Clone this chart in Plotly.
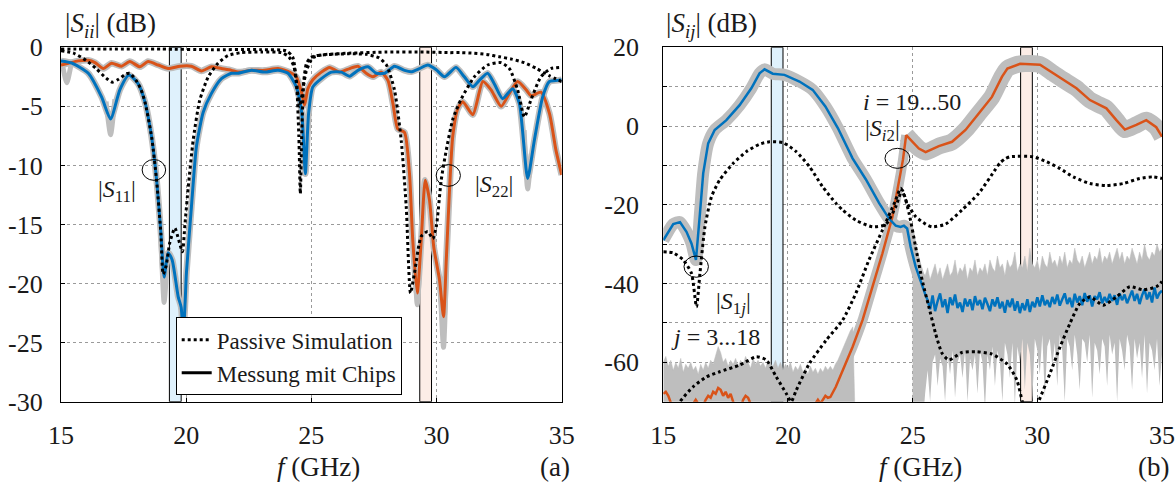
import numpy as np
import plotly.graph_objects as go

BLUE = '#0072BD'
ORANGE = '#D95319'
GRAY = '#BEBEBE'
FONT = 'Liberation Serif'
TXT = '#1a1a1a'

# ---------------- panel (a): |S_ii| ----------------
s11_f = [15.0, 15.43, 16.09, 16.62, 16.98, 17.35, 17.71, 18.08, 18.35, 18.62, 18.82, 18.99, 19.12, 19.28,
         19.44, 19.68, 19.8, 19.88, 19.96, 20.01, 20.21, 20.41, 20.68, 21.01, 21.41, 21.81, 22.07, 22.61, 23.14,
         23.67, 24.07, 24.40, 24.62, 24.76, 24.89, 25.06, 25.40, 25.80, 26.20, 26.53, 26.86, 27.26, 27.59,
         27.92, 28.32, 28.72, 28.99, 29.32, 29.65, 29.99, 30.32, 30.78, 31.11, 31.45, 31.71, 32.04, 32.31,
         32.64, 33.04, 33.31, 33.64, 33.91, 34.24, 34.51, 34.84, 35.0]
s11_db = [-1.15, -1.33, -2.2, -4.2, -6.07, -3.6, -2.35, -3.07, -4.6, -7.6, -11.25, -15.7, -19.45, -17.4,
          -18.0, -21.1, -22.0, -24.5, -21.5, -19.1, -13.5, -8.4, -5.5, -3.9, -2.65, -2.2, -2.2, -1.95, -2.1,
          -1.95, -2.2, -3.35, -5.6, -10.7, -5.6, -3.35, -2.65, -2.1, -2.1, -2.45, -1.95, -1.65, -2.2,
          -2.2, -1.6, -1.95, -2.07, -1.8, -1.5, -1.9, -2.5, -1.7, -2.5, -3.35, -2.8, -2.2, -3.1,
          -4.35, -3.5, -4.77, -11.1, -7.85, -4.2, -2.9, -2.8, -2.75]

s22_f = [15.0, 15.29, 15.69, 16.09, 16.36, 16.69, 17.02, 17.42, 17.75, 18.15, 18.48, 18.88, 19.28, 19.75,
         20.21, 20.61, 21.01, 21.41, 21.81, 22.07, 22.61, 23.14, 23.67, 24.13, 24.40, 24.62, 24.73, 24.86,
         25.06, 25.40, 25.73, 26.13, 26.53, 26.86, 27.19, 27.46, 27.79, 28.06, 28.26, 28.45, 28.72, 28.92,
         29.05, 29.23, 29.39, 29.55, 29.72, 29.89, 30.12, 30.28, 30.39, 30.52, 30.65, 30.85, 31.05, 31.45,
         31.85, 32.18, 32.58, 32.91, 33.24, 33.58, 33.78, 34.17, 34.51, 34.77, 35.0]
s22_db = [-1.5, -1.35, -1.15, -1.1, -1.3, -1.8, -1.35, -1.6, -1.2, -1.65, -1.2, -1.5, -1.8, -1.6,
          -1.6, -2.0, -1.65, -1.8, -1.95, -2.1, -1.95, -1.95, -1.8, -2.1, -2.5, -3.9, -4.9, -3.5,
          -2.75, -2.1, -1.7, -2.1, -1.8, -1.6, -2.2, -2.5, -2.1, -2.8, -4.77, -6.9, -7.2, -10.7,
          -16.3, -20.8, -16.3, -11.25, -12.95, -16.9, -19.7, -22.8, -18.0, -12.0, -7.5, -5.2, -4.6, -5.7,
          -2.9, -3.6, -5.0, -3.9, -2.9, -3.6, -4.1, -3.8, -5.6, -8.7, -10.8]

# gray spread of the measured chips (deeper excursions at the dips)
gray_a_f = [15.05, 15.23, 15.4, None, 16.8, 16.98, 17.15, None, 18.98, 19.12, 19.26, None,
            33.5, 33.64, 33.78, None, 29.12, 29.23, 29.34, None, 30.15, 30.28, 30.4]
gray_a_db = [-1.4, -3.0, -1.5, None, -4.6, -7.4, -4.4, None, -15.5, -21.6, -17.4, None,
             -7.0, -12.0, -9.0, None, -18.0, -21.8, -18.0, None, -20.5, -25.4, -18.5]

sim11_f = [15.0, 15.5, 16.0, 16.4, 16.8, 17.05, 17.3, 17.6, 17.75, 18.0, 18.2, 18.35, 18.62, 18.82, 18.99,
           19.08, 19.2, 19.35, 19.55, 19.7, 19.85, 19.95, 20.08, 20.28, 20.54, 20.88, 21.27, 21.67, 22.2,
           23.0, 23.8, 24.1, 24.3, 24.42, 24.53, 24.66, 24.8, 25.05, 25.4, 26.5, 28.0, 29.5, 30.5, 31.0,
           31.5, 32.0, 32.5, 33.0, 33.5, 34.0, 34.5, 35.0]
sim11_db = [-0.3, -0.5, -1.1, -1.8, -2.6, -2.95, -2.7, -2.25, -2.2, -2.8, -3.6, -4.6, -7.6, -11.3, -15.8,
            -19.2, -18.5, -16.5, -15.3, -16.3, -17.3, -15.0, -11.9, -7.85, -4.5, -2.5, -1.35, -0.7, -0.45,
            -0.4, -0.45, -0.8, -1.6, -3.3, -5.0, -3.6, -2.0, -0.9, -0.65, -0.5, -0.4, -0.4, -0.45, -0.45,
            -0.5, -0.6, -0.8, -1.0, -1.3, -1.8, -2.4, -2.9]

sim22_f = [15.0, 17.0, 19.0, 21.0, 23.0, 24.0, 24.25, 24.4, 24.5, 24.56, 24.62, 24.7, 24.8, 24.95, 25.2,
           25.8, 26.5, 27.2, 27.7, 28.0, 28.32, 28.59, 28.79, 28.96, 29.12, 29.39, 29.65, 29.85, 29.99,
           30.19, 30.39, 30.65, 30.98, 31.51, 32.04, 32.58, 32.91, 33.24, 33.51, 33.78, 34.17, 34.57, 35.0]
sim22_db = [-0.15, -0.15, -0.15, -0.2, -0.2, -0.3, -0.8, -2.8, -7.5, -12.4, -7.0, -2.8, -1.4, -0.9, -0.7,
            -0.6, -0.55, -0.6, -0.9, -1.5, -3.6, -7.9, -13.5, -20.8, -19.1, -16.0, -15.6, -16.2, -15.2,
            -11.2, -8.7, -6.1, -4.4, -2.5, -1.5, -1.3, -1.8, -3.6, -5.9, -4.4, -2.5, -1.8, -1.7]

# ---------------- panel (b): |S_ij| ----------------
s1j_f = [15.0, 15.40, 15.67, 15.93, 16.13, 16.31, 16.47, 16.60, 16.80, 17.06, 17.53, 18.06, 18.53, 18.86,
         19.06, 19.39, 19.86, 20.46, 20.99, 21.5, 22.0, 22.59, 23.12, 23.65, 24.05, 24.32, 24.52, 24.65,
         24.78, 24.92, 25.12, 25.38, 25.52, 25.6]
s1j_db = [-29.0, -24.9, -24.4, -26.85, -29.8, -34.0, -22.2, -12.0, -4.4, -1.0, 1.5, 5.3, 9.6, 13.4,
          14.4, 13.3, 13.0, 11.3, 9.2, 5.0, -0.5, -8.2, -13.5, -19.5, -23.5, -25.3, -25.6, -25.3,
          -26.0, -30.7, -35.7, -40.8, -43.0, -44.2]
# measured |S1j| above 25.7 GHz (noise floor), 0.1 GHz steps
s1j_noise_db = [-46.5, -43.0, -47.0, -44.5, -42.5, -46.0, -44.0, -47.5, -43.5, -45.5, -42.8, -46.2, -44.8,
                -47.2, -43.8, -45.8, -44.0, -46.8, -43.2, -45.5, -44.2, -46.5, -43.6, -45.2, -47.0, -44.0,
                -45.8, -43.5, -46.3, -44.6, -47.4, -44.2, -46.0, -43.8, -46.9, -44.5, -47.5, -45.0, -46.8,
                -44.0, -47.2, -44.6, -46.0, -43.5, -45.8, -43.0, -45.5, -44.2, -46.0, -43.4, -45.2, -42.8,
                -45.6, -44.0, -42.5, -45.2, -43.6, -46.0, -42.6, -44.8, -43.2, -45.5, -42.4, -44.6, -43.0,
                -45.8, -43.2, -44.0, -42.2, -45.0, -43.4, -44.8, -42.6, -44.4, -43.0, -45.4, -42.5, -44.2,
                -42.8, -45.0, -43.2, -41.8, -44.4, -42.6, -45.2, -43.0, -41.5, -44.0, -42.2, -44.8, -41.0,
                -43.8, -42.4, -41.8]

# measured |Si2| below 21.7 GHz (noise floor), 0.1 GHz steps from 15.0
si2_low_db = [-68.0, -67.5, -68.5, -70.5, -72, -72, -72, -71, -72, -72, -71.5, -72, -70.5, -69.5, -70.5,
              -72, -71, -69.5, -68.5, -69, -67.5, -68, -66.5, -67, -68.5, -67.5, -69, -68, -70, -72,
              -71, -72, -69.5, -68.5, -69, -70.5, -72, -72, -71, -72, -70.5, -72, -72, -71.5, -72, -72,
              -72, -71, -72, -72, -72, -70.5, -72, -72, -71, -72, -72, -70.5, -72, -71.5, -72, -70.5,
              -69.5, -70.5, -69.5, -68.5, -69]
si2_f = [21.7, 21.92, 22.19, 22.59, 22.99, 23.39, 23.79, 24.19, 24.45, 24.61, 24.74, 24.98, 25.25, 25.52,
         26.05, 26.58, 27.12, 27.65, 28.18, 28.58, 28.8, 29.31, 30.11, 30.64, 31.04, 31.57, 32.11, 32.51,
         32.77, 33.17, 33.51, 33.97, 34.37, 34.77, 35.0]
si2_db = [-68.8, -66.2, -62.0, -56.1, -49.3, -40.8, -32.3, -23.0, -14.5, -8.6, -2.3, -4.0, -5.7, -6.6,
          -5.1, -4.0, -1.0, 3.2, 7.4, 12.5, 14.6, 15.8, 15.6, 13.4, 11.7, 9.6, 6.6, 5.3,
          4.5, 1.5, -0.9, 0.3, 1.5, -0.3, -2.7]

sim1j_f = [15.0, 15.40, 15.80, 16.13, 16.33, 16.47, 16.67, 16.93, 17.26, 17.80, 18.33, 18.86, 19.26,
           19.79, 20.33, 20.86, 21.39, 21.92, 22.19, 22.72, 23.39, 23.92, 24.32, 24.58, 24.85, 25.12,
           25.38, 25.65, 25.92, 26.18, 26.45, 26.98, 27.52, 28.18, 28.8, 29.18, 29.4, 29.7, 30.05, 30.51,
           30.91, 31.31, 31.71, 32.11, 32.64, 33.17, 33.71, 34.24, 34.77, 35.0]
sim1j_db = [-31.9, -32.2, -34.0, -37.4, -45.9, -37.4, -25.6, -18.0, -13.7, -9.5, -6.5, -4.6, -4.0,
            -4.2, -6.5, -10.3, -15.4, -19.6, -21.3, -23.9, -25.6, -25.0, -20.5, -16.3, -22.0, -30.7,
            -39.1, -45.9, -52.7, -57.7, -59.4, -57.5, -57.3, -57.9, -60.5, -64.5, -70.0, -76.0, -70.0, -62.8,
            -56.1, -50.1, -45.0, -43.4, -45.5, -43.4, -40.8, -41.6, -40.8, -39.5]

simi2_f = [15.4, 15.67, 16.20, 16.73, 17.26, 18.06, 18.73, 19.13, 19.53, 19.93, 20.13, 20.33, 20.86, 21.53,
           22.19, 22.72, 23.25, 23.79, 24.32, 24.52, 24.78, 25.12, 25.52, 25.78, 26.32, 26.98, 27.65, 28.32,
           28.51, 28.71, 28.91, 29.84, 30.38, 30.91, 31.44, 32.11, 32.77, 33.44, 34.11, 34.64, 35.0]
simi2_db = [-74.0, -70.0, -66.2, -63.7, -62.4, -60.7, -58.6, -59.4, -63.7, -67.9, -70.0, -67.1, -60.3, -54.4,
            -49.3, -42.5, -34.0, -26.4, -18.8, -15.8, -19.6, -23.0, -24.9, -25.6, -24.9, -21.3, -17.1, -11.0,
            -9.3, -8.3, -7.8, -7.8, -9.1, -10.8, -12.9, -14.6, -15.1, -14.6, -13.3, -12.9, -13.3]

# gray spread of all measured paths in the noise floor
gray_low_top = [-60, -58.5, -61, -59.5, -62, -60, -61.5, -59, -62.5, -60.5, -61.5, -60, -62, -61, -63,
                -60.5, -62, -60, -61.5, -59.5, -60.5, -58, -56, -57.5, -60, -59, -61, -59.5, -60.5, -59,
                -61, -59.5, -60.5, -58.5, -60, -61.5, -59, -60.5, -59.5, -61, -60, -61.5, -59.5, -60.5,
                -61, -59.5, -61.5, -60, -62, -60.5, -61.5, -60, -62.5, -61, -62, -60.5, -62.5, -61.5,
                -63, -61, -62.5, -61.5, -63, -61.5, -62.5, -61, -62, -61, -62, -60.5, -59.5, -58, -56.5,
                -55, -53.5, -52, -51, -76]
gray_low_bottom = [-76] * len(gray_low_top)

gray_hi_top = [-27, -31, -34, -36, -37, -38, -36, -39, -37, -35, -38, -36, -39, -37, -35, -38, -37, -34,
               -38, -36, -37, -35, -39, -36, -37, -34, -38, -36, -37, -35, -38, -34, -36, -37, -33, -36,
               -35, -38, -34, -36, -35, -32, -37, -35, -36, -33, -37, -31, -35, -36, -34, -37, -33, -35,
               -36, -32, -35, -34, -36, -33, -35, -32, -36, -34, -35, -31, -34, -35, -33, -36, -34, -32,
               -35, -33, -34, -31, -35, -33, -34, -32, -35, -33, -31, -34, -32, -35, -33, -34, -31, -33,
               -35, -32, -34, -30, -33, -34, -32, -33, -30, -32, -31]
gray_hi_bottom = [-76, -76, -76, -76, -76, -68, -62, -70, -60, -58, -66, -59, -61, -70, -58, -63, -57, -69,
                  -60, -58, -64, -57, -70, -59, -62, -58, -68, -57, -60, -72, -58, -62, -56, -66, -57, -60,
                  -70, -55, -58, -64, -55, -71, -56, -60, -54, -67, -55, -58, -70, -54, -57, -63, -53, -69,
                  -56, -54, -61, -55, -66, -53, -57, -70, -54, -56, -62, -53, -58, -67, -54, -55, -60, -53,
                  -69, -55, -57, -63, -54, -56, -66, -53, -58, -55, -70, -54, -57, -62, -53, -56, -67, -54,
                  -59, -55, -64, -53, -68, -55, -57, -62, -54, -66, -58]

bands = [(19.33, 19.8), (29.33, 29.8)]
band_fill = ['#DFF1FC', '#FCEDE7']

fig = go.Figure()


def add_line(x, y, color, width, dash='solid', xa='x', ya='y', smooth=False, **kw):
    ln = dict(color=color, width=width, dash=dash)
    if smooth:
        ln.update(shape='spline', smoothing=0.6)
    fig.add_trace(go.Scatter(x=x, y=y, mode='lines', xaxis=xa, yaxis=ya, showlegend=False,
                             hoverinfo='skip', line=ln, **kw))


# legend entries first
fig.add_trace(go.Scatter(x=[None], y=[None], mode='lines', name='Passive Simulation',
                         line=dict(color='black', width=3, dash='dot')))
fig.add_trace(go.Scatter(x=[None], y=[None], mode='lines', name='Messung mit Chips',
                         line=dict(color='black', width=3)))

# ---- panel (a) traces
add_line(s11_f, s11_db, GRAY, 6.5, smooth=True)
add_line(s22_f, s22_db, GRAY, 6.5, smooth=True)
add_line(gray_a_f, gray_a_db, GRAY, 5, smooth=True)
add_line(s22_f, s22_db, ORANGE, 3, smooth=True)
add_line(s11_f, s11_db, BLUE, 3, smooth=True)
add_line(sim11_f, sim11_db, 'black', 3, 'dot', smooth=True)
add_line(sim22_f, sim22_db, 'black', 3, 'dot', smooth=True)

# ---- panel (b) traces
x_low = np.round(np.linspace(15.0, 22.7, len(gray_low_top)), 3)
add_line(x_low, gray_low_bottom, GRAY, 0, xa='x2', ya='y2')
add_line(x_low, gray_low_top, GRAY, 0.5, xa='x2', ya='y2', fill='tonexty', fillcolor=GRAY)
x_hi = np.round(np.linspace(25.0, 35.0, len(gray_hi_top)), 3)
x_hib = np.round(np.linspace(25.0, 35.0, len(gray_hi_bottom)), 3)
add_line(x_hib, gray_hi_bottom, GRAY, 0, xa='x2', ya='y2')
add_line(x_hi, gray_hi_top, GRAY, 0.5, xa='x2', ya='y2', fill='tonexty', fillcolor=GRAY)

x_noise = np.round(np.linspace(25.7, 35.0, len(s1j_noise_db)), 3)
s1j_all_f = list(s1j_f) + list(x_noise)
s1j_all_db = list(s1j_db) + list(s1j_noise_db)
x_si2low = np.round(np.linspace(15.0, 21.6, len(si2_low_db)), 3)
si2_all_f = list(x_si2low) + list(si2_f)
si2_all_db = list(si2_low_db) + list(si2_db)

add_line(s1j_f, s1j_db, GRAY, 12, xa='x2', ya='y2', smooth=True)
add_line(si2_f[:11], si2_db[:11], GRAY, 10, xa='x2', ya='y2', smooth=True)
add_line(si2_f[10:], si2_db[10:], GRAY, 17, xa='x2', ya='y2', smooth=True)
add_line(si2_all_f, si2_all_db, ORANGE, 2.5, xa='x2', ya='y2')
add_line(s1j_all_f, s1j_all_db, BLUE, 2.5, xa='x2', ya='y2')
add_line(sim1j_f, sim1j_db, 'black', 3, 'dot', xa='x2', ya='y2', smooth=True)
add_line(simi2_f, simi2_db, 'black', 3, 'dot', xa='x2', ya='y2', smooth=True)

# bands
for xr, yr, yb in (('x', 'y', (-30, 0)), ('x2', 'y2', (-70, 20))):
    for (b0, b1), fc in zip(bands, band_fill):
        fig.add_shape(type='rect', xref=xr, yref=yr, x0=b0, x1=b1, y0=yb[0], y1=yb[1],
                      fillcolor=fc, line=dict(color='black', width=1), layer='between')

# annotation ellipses
ellipses = [('x', 'y', 18.71, -10.38, 0.47, 0.88), ('x', 'y', 30.47, -10.85, 0.485, 0.92),
            ('x2', 'y2', 24.39, -8.2, 0.5, 2.54), ('x2', 'y2', 16.32, -35.7, 0.49, 2.7)]
for xr, yr, cx, cy, rx, ry in ellipses:
    fig.add_shape(type='circle', xref=xr, yref=yr, x0=cx - rx, x1=cx + rx, y0=cy - ry, y1=cy + ry,
                  line=dict(color='black', width=1), layer='above')

labels = [('x', 'y', 17.22, -12.2, '|<i>S</i><sub>11</sub>|'),
          ('x', 'y', 32.28, -11.7, '|<i>S</i><sub>22</sub>|'),
          ('x2', 'y2', 24.97, 6.2, '<i>i</i> = 19...50'),
          ('x2', 'y2', 23.79, -1.0, '|<i>S</i><sub><i>i</i>2</sub>|'),
          ('x2', 'y2', 17.82, -45.0, '|<i>S</i><sub>1<i>j</i></sub>|'),
          ('x2', 'y2', 17.1, -53.5, '<i>j</i> = 3...18')]
for xr, yr, x, y, t in labels:
    fig.add_annotation(xref=xr, yref=yr, x=x, y=y, text=t, showarrow=False,
                       font=dict(family=FONT, size=24, color=TXT))

W, H = 1175, 485


def px_x(v):
    return v / W


def px_y(v):
    return 1 - v / H


paper_txt = [(63, 25, 'left', '|<i>S</i><sub><i>ii</i></sub>| (dB)'),
             (664, 25, 'left', '|<i>S</i><sub><i>ij</i></sub>| (dB)'),
             (318, 467, 'center', '<i>f</i> (GHz)'),
             (920, 467, 'center', '<i>f</i> (GHz)'),
             (555, 467, 'center', '(a)'),
             (1153, 467, 'center', '(b)')]
for px, py, anc, t in paper_txt:
    fig.add_annotation(xref='paper', yref='paper', x=px_x(px), y=px_y(py), text=t, showarrow=False,
                       xanchor=anc, yanchor='middle', font=dict(family=FONT, size=27, color=TXT))

axis_common = dict(showline=True, mirror=True, linecolor='black', linewidth=1.2, showgrid=True,
                   gridcolor='#9A9A9A', griddash='dot', gridwidth=1, zeroline=False, ticks='inside',
                   ticklen=4, tickcolor='black', automargin=False, ticklabeloverflow='allow',
                   tickfont=dict(family=FONT, size=26, color=TXT))
xt = [15, 20, 25, 30, 35]
y2t = [-60, -40, -20, 0, 20]
ydom = [px_y(401.7), px_y(47.3)]
fig.update_layout(
    width=W, height=H, margin=dict(l=0, r=0, t=0, b=0), plot_bgcolor='white', paper_bgcolor='white',
    xaxis=dict(domain=[px_x(61), px_x(561.7)], range=[15, 35], tickvals=xt, ticktext=[str(v) for v in xt],
               anchor='y', ticklabelstandoff=10, **axis_common),
    yaxis=dict(domain=ydom, range=[-30, 0], tickvals=[-30, -25, -20, -15, -10, -5, 0],
               ticktext=['-30', '-25', '-20', '-15', '-10', '-5', '0'], anchor='x', ticklabelstandoff=12,
               **axis_common),
    xaxis2=dict(domain=[px_x(663.3), px_x(1162)], range=[15, 35], tickvals=xt, ticktext=[str(v) for v in xt],
                anchor='y2', ticklabelstandoff=10, **axis_common),
    yaxis2=dict(domain=ydom, range=[-70, 20], tickvals=y2t, ticktext=[str(v) for v in y2t], anchor='x2',
                ticklabelstandoff=18,
                minor=dict(tickvals=[-50, -30, -10, 10], showgrid=True, gridcolor='#9A9A9A', griddash='dot',
                           gridwidth=1, ticks='inside', ticklen=4, tickcolor='black'),
                **axis_common),
    legend=dict(x=px_x(175.7), y=px_y(317.3), xanchor='left', yanchor='top', bordercolor='black',
                borderwidth=1, bgcolor='white', font=dict(family=FONT, size=23, color=TXT),
                tracegroupgap=0, itemwidth=30, traceorder='normal'),
    showlegend=True,
)
# remove the default 8 px page margin so the figure sits at the window origin
fig.write_html('out.html', config={'displayModeBar': False},
               post_script="document.body.style.margin='0px';document.body.style.overflow='hidden';")
